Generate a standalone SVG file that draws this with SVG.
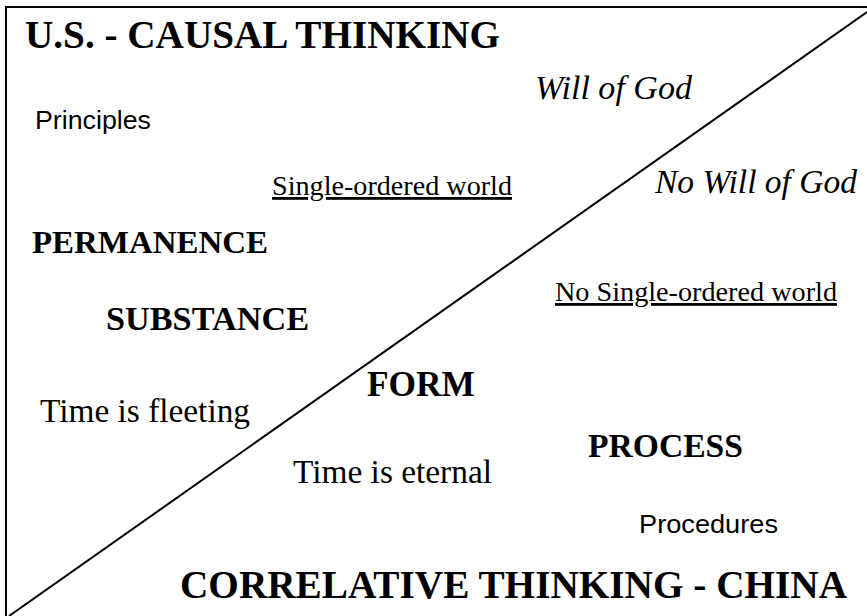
<svg xmlns="http://www.w3.org/2000/svg" width="867" height="616" viewBox="0 0 867 616">
<style>
.b{font-family:"Liberation Serif","Times New Roman",serif;font-weight:bold;fill:#000}
.r{font-family:"Liberation Serif","Times New Roman",serif;fill:#000}
.i{font-family:"Liberation Serif","Times New Roman",serif;font-style:italic;fill:#000}
.s{font-family:"Liberation Sans",Arial,sans-serif;fill:#000}
.u{text-decoration:underline}
.ln{stroke:#000;stroke-width:2;fill:none}
</style>
<rect width="867" height="616" fill="#fff"/>
<g id="frame">
<path class="ln" d="M6,616 V7 H867"/>
<line class="ln" x1="9" y1="616" x2="867" y2="12"/>
</g>
<g id="title-us"><text class="b" x="25" y="48" font-size="39" textLength="475" lengthAdjust="spacingAndGlyphs">U.S. - CAUSAL THINKING</text></g>
<g id="principles"><text class="s" x="35" y="129" font-size="26" textLength="116" lengthAdjust="spacingAndGlyphs">Principles</text></g>
<g id="will-of-god"><text class="i" x="535" y="99" font-size="33" textLength="157" lengthAdjust="spacingAndGlyphs">Will of God</text></g>
<g id="single-ordered"><text class="r u" x="272" y="195" font-size="28" textLength="240" lengthAdjust="spacingAndGlyphs">Single-ordered world</text></g>
<g id="no-will-of-god"><text class="i" x="655" y="193" font-size="33" textLength="202" lengthAdjust="spacingAndGlyphs">No Will of God</text></g>
<g id="permanence"><text class="b" x="32" y="253" font-size="32" textLength="236" lengthAdjust="spacingAndGlyphs">PERMANENCE</text></g>
<g id="no-single-ordered"><text class="r u" x="555" y="301" font-size="28" textLength="282" lengthAdjust="spacingAndGlyphs">No Single-ordered world</text></g>
<g id="substance"><text class="b" x="106" y="330" font-size="34" textLength="203" lengthAdjust="spacingAndGlyphs">SUBSTANCE</text></g>
<g id="form"><text class="b" x="367" y="396" font-size="35" textLength="108" lengthAdjust="spacingAndGlyphs">FORM</text></g>
<g id="time-fleeting"><text class="r" x="40" y="422" font-size="33" textLength="210" lengthAdjust="spacingAndGlyphs">Time is fleeting</text></g>
<g id="process"><text class="b" x="588" y="457" font-size="33" textLength="155" lengthAdjust="spacingAndGlyphs">PROCESS</text></g>
<g id="time-eternal"><text class="r" x="293" y="483" font-size="33" textLength="199" lengthAdjust="spacingAndGlyphs">Time is eternal</text></g>
<g id="procedures"><text class="s" x="639" y="533" font-size="25" textLength="139" lengthAdjust="spacingAndGlyphs">Procedures</text></g>
<g id="title-china"><text class="b" x="180" y="598" font-size="40" textLength="667" lengthAdjust="spacingAndGlyphs">CORRELATIVE THINKING - CHINA</text></g>
</svg>
